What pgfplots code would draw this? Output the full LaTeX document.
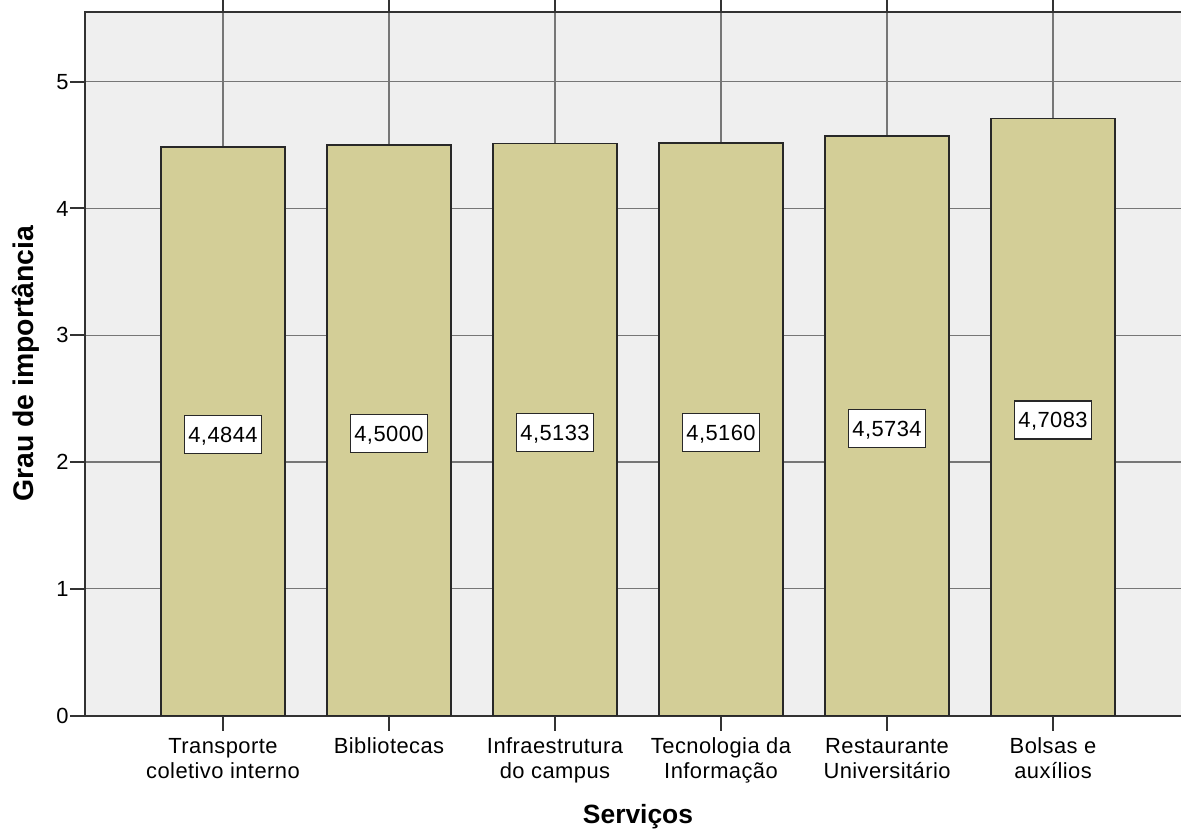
\documentclass[border=0pt]{standalone}
\usepackage{fontspec}
\setmainfont{Liberation Sans}
\newfontfamily\labfont[LetterSpace=2]{Liberation Sans}
\usepackage{pgfplots}
\pgfplotsset{compat=1.18}
\usepackage{pgfplotstable}

\definecolor{plotbg}{RGB}{239,239,239}
\definecolor{barfill}{RGB}{211,206,151}
\definecolor{baredge}{RGB}{40,40,40}
\definecolor{gridgray}{RGB}{118,118,118}
\definecolor{axisgray}{RGB}{50,50,50}

% mean importance per service
\pgfplotstableread{
x v
0 4.4844
1 4.5000
2 4.5133
3 4.5160
4 4.5734
5 4.7083
}\servicos

\begin{document}
\begin{tikzpicture}
\begin{axis}[
  name=ax,
  scale only axis,
  width=1106bp, height=703.5bp,
  xmin=-0.831, xmax=5.831,
  ymin=0, ymax=5.55,
  axis background/.style={fill=plotbg},
  axis line style={axisgray, line width=2bp},
  xtick={0,1,2,3,4,5},
  xticklabels={{Transporte\\coletivo interno},{Bibliotecas},{Infraestrutura\\do campus},{Tecnologia da\\Informação},{Restaurante\\Universitário},{Bolsas e\\auxílios}},
  ytick={0,1,2,3,4,5},
  tick align=outside,
  major tick length=15bp,
  tick style={axisgray, line width=2bp},
  xmajorgrids, ymajorgrids,
  major grid style={gridgray, line width=1.3bp},
  /pgf/number format/assume math mode=true,
  tick label style={font=\labfont\fontsize{22}{25}\selectfont},
  xticklabel style={align=center, yshift=-4bp},
  yticklabel style={xshift=2bp},
  xlabel={\bfseries Serviços},
  ylabel={\bfseries Grau de importância},
  xlabel style={font=\fontsize{26.5}{30}\selectfont, inner sep=0pt, yshift=-17bp},
  ylabel style={font=\fontsize{28.5}{32}\selectfont, yshift=10bp},
]
\addplot[ybar, bar width=0.747, fill=barfill, draw=baredge, line width=1.6bp]
  table[x=x, y=v] {\servicos};
\addplot[draw=none, mark=none,
  point meta=\thisrow{v},
  nodes near coords={\pgfmathprintnumber[fixed,zerofill,precision=4,use comma]{\pgfplotspointmeta}},
  every node near coord/.append style={anchor=center, yshift=-3bp,
    fill=white, draw=baredge, line width=1.5bp,
    font=\labfont\fontsize{22}{25}\selectfont,
    inner xsep=4bp, text height=15.5bp, text depth=0bp, minimum height=38bp}]
  table[x=x, y expr=\thisrow{v}/2] {\servicos};
\end{axis}
\pgfresetboundingbox
\path[use as bounding box] ([xshift=-85bp,yshift=-113.5bp]ax.south west) rectangle ([xshift=1096bp,yshift=715.5bp]ax.south west);
\end{tikzpicture}
\end{document}
